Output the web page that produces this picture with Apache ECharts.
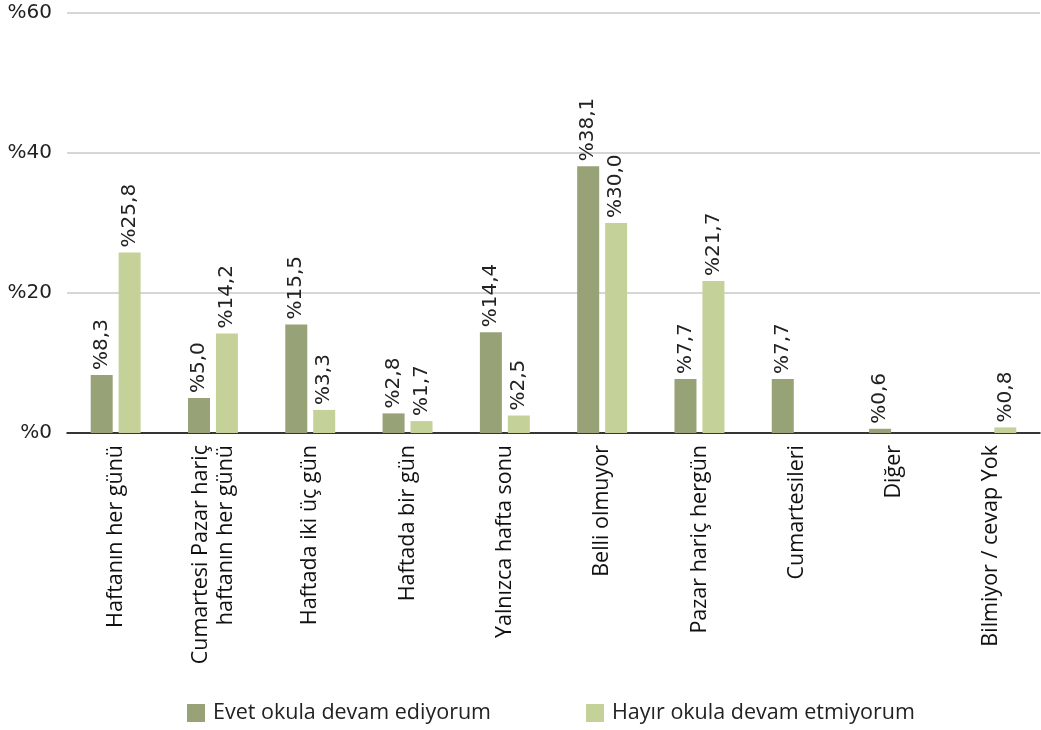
<!DOCTYPE html>
<html><head><meta charset="utf-8">
<script src="https://cdn.jsdelivr.net/npm/echarts@6/dist/echarts.min.js"></script>
<style>html,body{margin:0;padding:0;background:#fff}#c{width:1041px;height:730px}</style>
</head><body><div id="c"></div>
<script>
const categories = ["Haftanın her günü","Cumartesi Pazar hariç\nhaftanın her günü","Haftada iki üç gün","Haftada bir gün","Yalnızca hafta sonu","Belli olmuyor","Pazar hariç hergün","Cumartesileri","Diğer","Bilmiyor / cevap Yok"];
const seriesNames = ["Evet okula devam ediyorum","Hayır okula devam etmiyorum"];
const evet = [8.3,5.0,15.5,2.8,14.4,38.1,7.7,7.7,0.6,0];
const hayir = [25.8,14.2,3.3,1.7,2.5,30.0,21.7,0,0,0.8];
const yTicks = [0,20,40,60];
const colors = ["#97a276","#c4d29a"];

const fmt = v => '%' + v.toFixed(1).replace('.', ',');
const labelCfg = {
  show: true, position: 'top', rotate: 90, align: 'left', verticalAlign: 'middle',
  distance: 5, color: '#222', fontFamily: 'DejaVu Sans', fontSize: 20,
  formatter: p => p.value ? fmt(p.value) : ''
};
const chart = echarts.init(document.getElementById('c'), null, {renderer:'canvas'});
chart.setOption({
  animation: false,
  grid: {left: 67, right: 1, top: 13, bottom: 297, containLabel: false},
  legend: {
    top: 697, left: 182, itemWidth: 18, itemHeight: 18, itemGap: 95,
    icon: 'rect',
    textStyle: {fontFamily: 'Open Sans', fontSize: 21.5, color: '#222', padding: [0,0,0,3]},
    data: seriesNames
  },
  xAxis: {
    type: 'category', data: categories,
    axisLine: {lineStyle: {color: '#000', width: 1.5}},
    axisTick: {show: false},
    axisLabel: {rotate: 90, interval: 0, margin: 12, fontFamily: 'Open Sans', fontSize: 21.5, color: '#111', lineHeight: 25, align: 'right', verticalAlign: 'middle'}
  },
  yAxis: {
    type: 'value', min: yTicks[0], max: yTicks[yTicks.length-1], interval: 20,
    axisLine: {show: false}, axisTick: {show: false},
    splitLine: {lineStyle: {color: '#c8c8c8', width: 1.5}},
    axisLabel: {margin: 15, fontFamily: 'DejaVu Sans', fontSize: 20, color: '#222', formatter: v => '%' + v}
  },
  series: [
    {name: seriesNames[0], type: 'bar', data: evet, barWidth: 22, barGap: '27%', itemStyle: {color: colors[0]}, label: labelCfg},
    {name: seriesNames[1], type: 'bar', data: hayir, barWidth: 22, barGap: '27%', itemStyle: {color: colors[1]}, label: labelCfg}
  ]
});
</script></body></html>
